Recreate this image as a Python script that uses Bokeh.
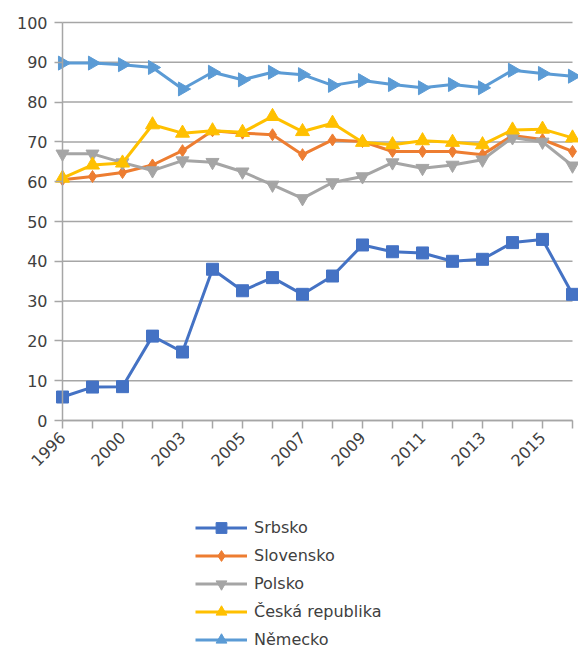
import numpy as np
from bokeh.plotting import figure
from bokeh.models import FixedTicker, Legend, LegendItem, Range1d
from bokeh.embed import file_html
from bokeh.resources import INLINE

years = ["1996", "1998", "2000", "2002", "2003", "2004", "2005", "2006", "2007",
         "2008", "2009", "2010", "2011", "2012", "2013", "2014", "2015", "2016"]
shown_labels = ["1996", "2000", "2003", "2005", "2007", "2009", "2011", "2013", "2015"]

srbsko = [5.9, 8.4, 8.5, 21.2, 17.2, 38.0, 32.6, 35.9, 31.7, 36.3, 44.1, 42.4, 42.1, 40.0, 40.5, 44.7, 45.5, 31.7]
slovensko = [60.5, 61.3, 62.3, 64.2, 67.8, 72.8, 72.2, 71.8, 66.8, 70.5, 70.1, 67.6, 67.6, 67.6, 66.8, 71.6, 70.6, 67.6]
polsko = [67.0, 67.0, 64.8, 62.8, 65.3, 64.9, 62.5, 59.2, 55.8, 59.8, 61.3, 64.8, 63.4, 64.2, 65.5, 71.1, 70.0, 64.0]
ceska = [60.9, 64.2, 64.7, 74.3, 72.2, 72.8, 72.4, 76.4, 72.6, 74.7, 69.9, 69.3, 70.3, 69.9, 69.3, 73.0, 73.2, 71.0]
nemecko = [89.8, 89.8, 89.4, 88.7, 83.3, 87.5, 85.6, 87.5, 86.9, 84.2, 85.4, 84.4, 83.6, 84.4, 83.6, 88.0, 87.2, 86.5]

series_names = ["Srbsko", "Slovensko", "Polsko", "Česká republika", "Německo"]
y_ticks = [0, 10, 20, 30, 40, 50, 60, 70, 80, 90, 100]

x = list(range(len(years)))
n = len(years) - 1

# layout in pixels: category 0 at x=62, last category at x=572; value 0 at y=420, 100 at y=22
PX_PER_X = (572 - 62) / n
PX_PER_Y = (420 - 22) / 100.0
x_min = -62 / PX_PER_X
x_max = (578 - 62) / PX_PER_X
y_min = -(649 - 420) / PX_PER_Y
y_max = 100 + 22 / PX_PER_Y

p = figure(width=578, height=649, output_backend="svg", toolbar_location=None,
           x_range=Range1d(x_min, x_max), y_range=Range1d(y_min, y_max),
           min_border_left=0, min_border_right=0, min_border_top=0, min_border_bottom=0)
p.outline_line_color = None

FONT = "DejaVu Sans"
TXT = "#404040"
GRID = "#A6A6A6"

p.xgrid.grid_line_color = None
p.ygrid.grid_line_color = None
# horizontal gridlines at the y ticks, spanning the category axis
p.segment(x0=[0] * len(y_ticks), y0=y_ticks, x1=[n] * len(y_ticks), y1=y_ticks,
          line_color=GRID, line_width=1.5)

p.yaxis.ticker = FixedTicker(ticks=y_ticks)
p.yaxis.bounds = (0, 100)
p.yaxis.fixed_location = 0
p.xaxis.ticker = FixedTicker(ticks=x)
p.xaxis.bounds = (0, n)
p.xaxis.fixed_location = 0
p.xaxis.major_label_overrides = {i: (y if y in shown_labels else "") for i, y in enumerate(years)}
p.xaxis.major_label_orientation = np.pi / 4
for ax in (p.xaxis, p.yaxis):
    ax.axis_line_color = GRID
    ax.axis_line_width = 1.5
    ax.major_tick_line_color = GRID
    ax.major_tick_line_width = 1.5
    ax.major_tick_in = 0
    ax.major_tick_out = 8
    ax.minor_tick_line_color = None
    ax.major_label_text_font = FONT
    ax.major_label_text_font_size = "16px"
    ax.major_label_text_color = TXT
p.yaxis.major_label_standoff = 7
p.xaxis.major_label_standoff = 6

colors = ["#4472C4", "#ED7D31", "#A5A5A5", "#FFC000", "#5B9BD5"]
markers = ["square", "diamond", "inverted_triangle", "triangle", "triangle"]
angles = [0, 0, 0, 0, -np.pi / 2]
sizes = [12, 12, 13, 14, 14]
data = [srbsko, slovensko, polsko, ceska, nemecko]

items = []
for name, vals, c, m, a, s in zip(series_names, data, colors, markers, angles, sizes):
    l = p.line(x, vals, line_color=c, line_width=3)
    sc = p.scatter(x, vals, marker=m, size=s, angle=a, fill_color=c, line_color=c)
    items.append(LegendItem(label=name, renderers=[l, sc]))

legend = Legend(items=items, location=(195, 649 - 653), orientation="vertical",
                glyph_width=52, glyph_height=27, label_height=27, spacing=1,
                label_standoff=7, padding=0, margin=0,
                border_line_color=None, background_fill_alpha=0,
                label_text_font=FONT, label_text_font_size="16px", label_text_color=TXT)
p.add_layout(legend, "center")

open("out.html", "w").write(file_html(p, INLINE))
